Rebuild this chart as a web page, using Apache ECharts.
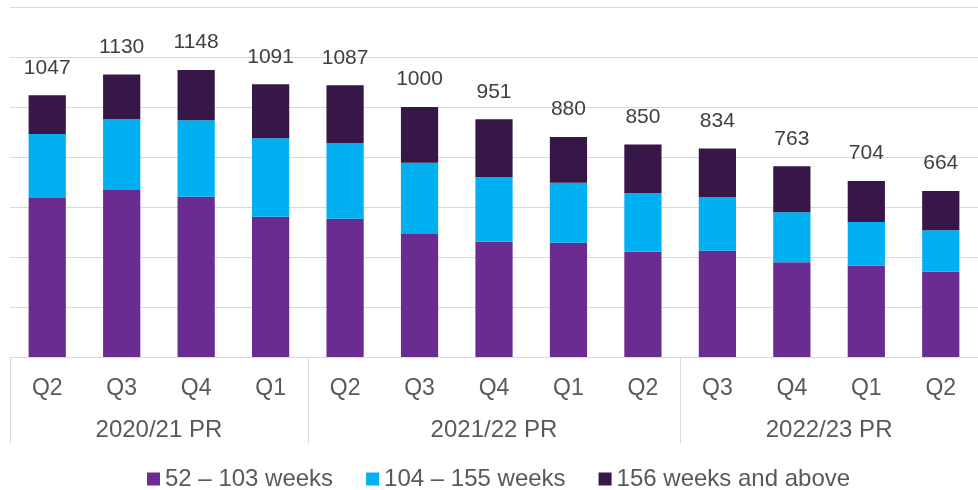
<!DOCTYPE html>
<html>
<head>
<meta charset="utf-8">
<script src="https://cdn.jsdelivr.net/npm/echarts@6/dist/echarts.min.js"></script>
<style>
  html, body { margin: 0; padding: 0; background: #fff; }
  #chart { width: 978px; height: 490px; }
</style>
</head>
<body>
<div id="chart"></div>
<script>
const quarters = ['Q2', 'Q3', 'Q4', 'Q1', 'Q2', 'Q3', 'Q4', 'Q1', 'Q2', 'Q3', 'Q4', 'Q1', 'Q2'];
const years = ['2020/21 PR', '2021/22 PR', '2022/23 PR'];
const yearCentres = [2, 6.5, 11];      // middle of each year group, in category units
const yearBounds = [0, 4, 9, 13];      // group separators
const weeks52 = [636, 668, 641, 561, 553, 492, 461, 457, 421, 425, 379, 365, 341];
const weeks104 = [256, 284, 306, 314, 303, 285, 259, 240, 235, 215, 200, 175, 166];
const weeks156 = [155, 178, 201, 216, 231, 223, 231, 183, 194, 194, 184, 164, 157];
const totals = [1047, 1130, 1148, 1091, 1087, 1000, 951, 880, 850, 834, 763, 704, 664];

const font = '"Liberation Sans", Arial, sans-serif';
const textGrey = '#595959';

const chart = echarts.init(document.getElementById('chart'));

function barSeries(name, data, color) {
    return {
        name: name,
        type: 'bar',
        stack: 'all',
        barWidth: '50%',
        itemStyle: { color: color },
        data: data
    };
}

// the top segment carries the total above each bar
const topSeries = barSeries('156 weeks and above', weeks156, '#371747');
topSeries.label = {
    show: true,
    position: 'top',
    distance: 17,
    fontSize: 21,
    color: '#404040',
    formatter: p => totals[p.dataIndex]
};

chart.setOption({
    animation: false,
    textStyle: { fontFamily: font },
    grid: { left: 10, right: -5, top: 7, bottom: 133 },
    legend: {
        left: 142,
        top: 462,
        icon: 'rect',
        itemWidth: 13,
        itemHeight: 13,
        itemGap: 33,
        textStyle: { fontSize: 24, color: textGrey, fontFamily: font },
        data: ['52 – 103 weeks', '104 – 155 weeks', '156 weeks and above']
    },
    xAxis: [{
        type: 'category',
        data: quarters,
        axisLine: { lineStyle: { color: '#D9D9D9' } },
        axisTick: { show: false },
        axisLabel: { fontSize: 23, color: textGrey, margin: 20, interval: 0 }
    }, {
        type: 'value',
        position: 'bottom',
        min: 0,
        max: 13,
        axisLine: { show: false },
        splitLine: { show: false },
        axisTick: {
            show: true,
            customValues: yearBounds,
            length: 86,
            lineStyle: { color: '#D9D9D9' }
        },
        axisLabel: {
            customValues: yearCentres,
            fontSize: 24,
            color: textGrey,
            margin: 61,
            formatter: v => years[yearCentres.indexOf(v)]
        }
    }],
    yAxis: {
        type: 'value',
        min: 0,
        max: 1400,
        interval: 200,
        axisLabel: { show: false },
        axisLine: { show: false },
        axisTick: { show: false },
        splitLine: { lineStyle: { color: '#D9D9D9' } }
    },
    series: [
        barSeries('52 – 103 weeks', weeks52, '#6B2C91'),
        barSeries('104 – 155 weeks', weeks104, '#00B0F0'),
        topSeries
    ]
});
</script>
</body>
</html>
